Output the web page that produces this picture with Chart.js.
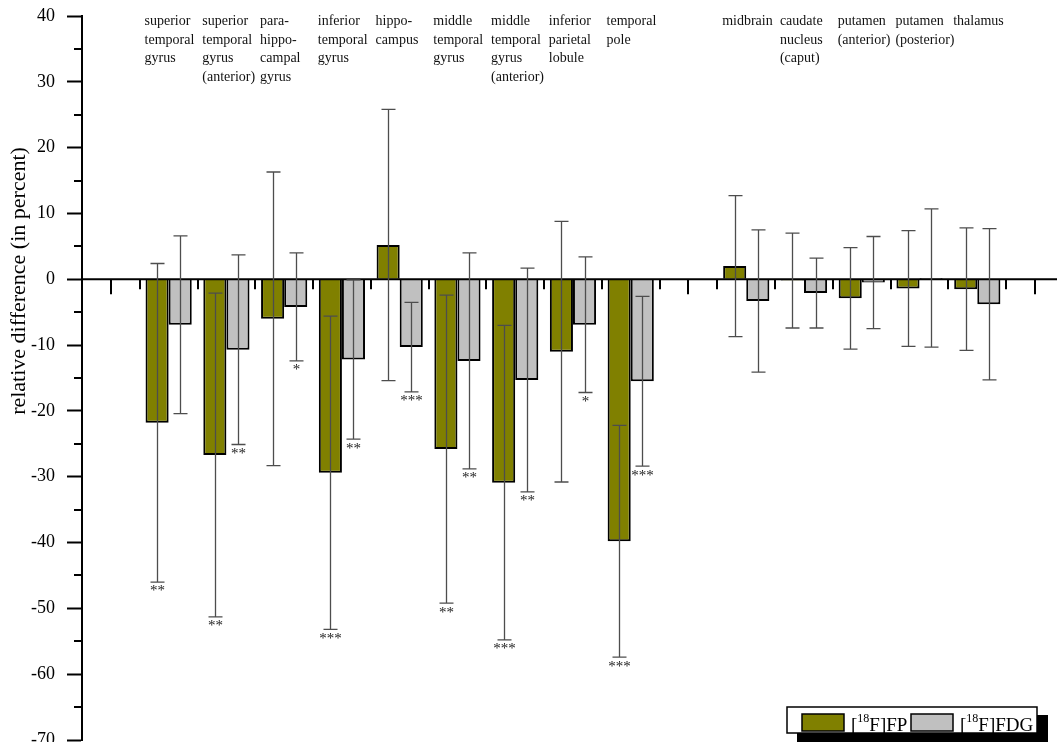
<!DOCTYPE html>
<html>
<head>
<meta charset="utf-8">
<title>Relative difference by brain region</title>
<script src="https://cdn.jsdelivr.net/npm/chart.js@4.4.1/dist/chart.umd.min.js"></script>
<style>
  html, body { margin: 0; padding: 0; background: #ffffff; overflow: hidden; }
  #wrap { width: 1057px; height: 742px; }
</style>
</head>
<body>
<div id="wrap"><canvas id="chart" width="1057" height="742"></canvas></div>
<script>
// Brain regions (multi-line captions above the bars)
const regionLabels = [
  ['superior', 'temporal', 'gyrus'],
  ['superior', 'temporal', 'gyrus', '(anterior)'],
  ['para-', 'hippo-', 'campal', 'gyrus'],
  ['inferior', 'temporal', 'gyrus'],
  ['hippo-', 'campus'],
  ['middle', 'temporal', 'gyrus'],
  ['middle', 'temporal', 'gyrus', '(anterior)'],
  ['inferior', 'parietal', 'lobule'],
  ['temporal', 'pole'],
  ['midbrain'],
  ['caudate', 'nucleus', '(caput)'],
  ['putamen', '(anterior)'],
  ['putamen', '(posterior)'],
  ['thalamus']
];
// Slot of each region on the x axis (slots 0, 10 and 16 stay empty)
const regionSlots = [1, 2, 3, 4, 5, 6, 7, 8, 9, 11, 12, 13, 14, 15];
const groupSlots = [0, 10, 16];

// [18F]FP: mean relative difference (%) and standard deviation
const fpMean = [-21.8, -26.7, -6.0, -29.4, 5.2, -25.8, -30.9, -11.0, -39.8, 2.0, -0.2, -2.9, -1.4, -1.5];
const fpSD   = [24.2, 24.6, 22.3, 23.8, 20.6, 23.4, 23.9, 19.8, 17.6, 10.7, 7.2, 7.7, 8.8, 9.3];
const fpSig  = ['**', '**', '', '***', '', '**', '***', '', '***', '', '', '', '', ''];

// [18F]FDG: mean relative difference (%) and standard deviation
const fdgMean = [-6.9, -10.7, -4.2, -12.2, -10.3, -12.4, -15.3, -6.9, -15.5, -3.3, -2.1, -0.5, 0.2, -3.8];
const fdgSD   = [13.5, 14.4, 8.2, 12.1, 6.8, 16.4, 17.0, 10.3, 12.9, 10.8, 5.3, 7.0, 10.5, 11.5];
const fdgSig  = ['', '**', '*', '**', '***', '**', '**', '*', '***', '', '', '', '', ''];

const yMin = -70, yMax = 40, yStep = 10;
const yTitle = 'relative difference (in percent)';
const legendIsotope = '18';
const legendTracers = ['FP', 'FDG'];

const COLORS = { fp: '#808000', fdg: '#c0c0c0' };
const SERIF = '"Liberation Serif", "Times New Roman", serif';

const toPoints = (means) => regionSlots.map((s, i) => ({ x: s, y: means[i] }));

// Error bars, significance stars, zero line, axis ticks, captions and legend
const decorations = {
  id: 'decorations',
  afterDatasetsDraw(chart) {
    const { ctx, chartArea, scales: { x, y } } = chart;
    const y0 = y.getPixelForValue(0);
    ctx.save();

    // zero line with downward ticks
    ctx.strokeStyle = '#000';
    ctx.lineWidth = 2;
    ctx.beginPath();
    ctx.moveTo(chartArea.left, y0);
    ctx.lineTo(chartArea.right, y0);
    ctx.stroke();
    const minor = new Set();
    regionSlots.forEach(s => { minor.add(s - 0.5); minor.add(s + 0.5); });
    ctx.beginPath();
    minor.forEach(v => {
      const px = Math.round(x.getPixelForValue(v));
      ctx.moveTo(px, y0);
      ctx.lineTo(px, y0 + 10);
    });
    groupSlots.forEach(v => {
      const px = Math.round(x.getPixelForValue(v));
      ctx.moveTo(px, y0);
      ctx.lineTo(px, y0 + 15);
    });
    ctx.stroke();

    // error bars
    const series = [[fpMean, fpSD, fpSig], [fdgMean, fdgSD, fdgSig]];
    series.forEach(([means, sds, sig], d) => {
      const meta = chart.getDatasetMeta(d);
      meta.data.forEach((bar, i) => {
        const cx = Math.round(bar.x) + 0.5;
        const top = y.getPixelForValue(means[i] + sds[i]);
        const bot = y.getPixelForValue(means[i] - sds[i]);
        ctx.strokeStyle = '#4d4d4d';
        ctx.lineWidth = 1.3;
        ctx.beginPath();
        ctx.moveTo(cx, top); ctx.lineTo(cx, bot);
        ctx.moveTo(cx - 7, top); ctx.lineTo(cx + 7, top);
        ctx.moveTo(cx - 7, bot); ctx.lineTo(cx + 7, bot);
        ctx.stroke();
        if (sig[i]) {
          ctx.fillStyle = '#222';
          ctx.font = '15px ' + SERIF;
          ctx.textAlign = 'center';
          ctx.textBaseline = 'top';
          ctx.fillText(sig[i], cx, bot + 2);
        }
      });
    });
    ctx.restore();
  },
  afterDraw(chart) {
    const { ctx, chartArea, scales: { x, y } } = chart;
    ctx.save();

    // minor ticks on the value axis
    ctx.strokeStyle = '#000';
    ctx.lineWidth = 2;
    ctx.beginPath();
    for (let v = yMin + yStep / 2; v < yMax; v += yStep) {
      const py = Math.round(y.getPixelForValue(v));
      ctx.moveTo(chartArea.left - 8, py);
      ctx.lineTo(chartArea.left, py);
    }
    ctx.stroke();

    // value axis title
    ctx.fillStyle = '#000';
    ctx.font = '22px ' + SERIF;
    ctx.textAlign = 'center';
    ctx.textBaseline = 'middle';
    ctx.translate(19, 281);
    ctx.rotate(-Math.PI / 2);
    ctx.fillText(yTitle, 0, 0);
    ctx.setTransform(1, 0, 0, 1, 0, 0);

    // region captions, left-aligned on the first bar of each group
    const firstBars = chart.getDatasetMeta(0).data;
    ctx.font = '14px ' + SERIF;
    ctx.textAlign = 'left';
    ctx.textBaseline = 'alphabetic';
    ctx.fillStyle = '#111';
    regionLabels.forEach((lines, i) => {
      const bar = firstBars[i];
      const left = bar.x - bar.width / 2 - 1;
      lines.forEach((t, k) => ctx.fillText(t, left, 25 + k * 18.7));
    });

    // legend box with drop shadow
    const bx = 787, by = 707, bw = 250, bh = 26;
    ctx.fillStyle = '#000';
    ctx.fillRect(bx + 10, by + 8, bw + 1, bh + 10);
    ctx.fillStyle = '#fff';
    ctx.fillRect(bx, by, bw, bh);
    ctx.strokeStyle = '#000';
    ctx.lineWidth = 1.5;
    ctx.strokeRect(bx, by, bw, bh);

    const swatches = [COLORS.fp, COLORS.fdg];
    const swX = [802, 911];
    legendTracers.forEach((name, i) => {
      ctx.fillStyle = swatches[i];
      ctx.fillRect(swX[i], 714, 42, 17);
      ctx.strokeStyle = '#000';
      ctx.lineWidth = 1.5;
      ctx.strokeRect(swX[i], 714, 42, 17);
      let tx = swX[i] + 49;
      ctx.fillStyle = '#000';
      ctx.textAlign = 'left';
      ctx.textBaseline = 'alphabetic';
      ctx.font = '19px ' + SERIF;
      ctx.fillText('[', tx, 731);
      tx += ctx.measureText('[').width;
      ctx.font = '12px ' + SERIF;
      ctx.fillText(legendIsotope, tx, 722);
      tx += ctx.measureText(legendIsotope).width;
      ctx.font = '19px ' + SERIF;
      ctx.fillText('F]' + name, tx, 731);
    });
    ctx.restore();
  }
};

new Chart(document.getElementById('chart'), {
  type: 'bar',
  data: {
    datasets: [
      {
        label: '[18F]FP',
        data: toPoints(fpMean),
        backgroundColor: COLORS.fp,
        borderColor: '#000',
        borderWidth: 2,
        categoryPercentage: 0.8,
        barPercentage: 1.0
      },
      {
        label: '[18F]FDG',
        data: toPoints(fdgMean),
        backgroundColor: COLORS.fdg,
        borderColor: '#000',
        borderWidth: 2,
        categoryPercentage: 0.8,
        barPercentage: 1.0
      }
    ]
  },
  options: {
    responsive: false,
    animation: false,
    devicePixelRatio: 1,
    layout: { padding: { left: 0, top: 16, right: 0, bottom: 2 } },
    plugins: { legend: { display: false }, tooltip: { enabled: false } },
    scales: {
      x: {
        type: 'linear',
        offset: false,
        min: -0.5,
        max: 16.38,
        display: false,
        ticks: { stepSize: 1, includeBounds: false }
      },
      y: {
        min: yMin,
        max: yMax,
        position: 'left',
        ticks: {
          stepSize: yStep,
          color: '#000',
          padding: 12,
          font: { family: SERIF, size: 18 }
        },
        grid: {
          drawOnChartArea: false,
          drawTicks: true,
          tickLength: 15,
          tickWidth: 2,
          tickColor: '#000'
        },
        border: { display: true, color: '#000', width: 2 },
        afterFit(scale) {
          scale.width = 82;
          scale.paddingTop = 0;
          scale.paddingBottom = 0;
        }
      }
    }
  },
  plugins: [decorations]
});
</script>
</body>
</html>
